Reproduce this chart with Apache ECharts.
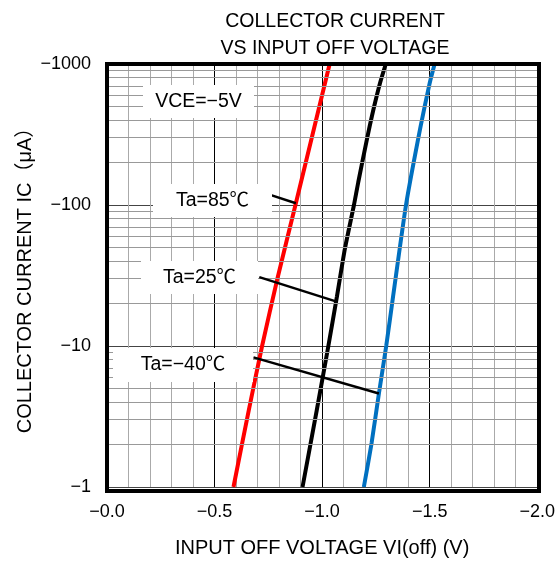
<!DOCTYPE html>
<html>
<head>
<meta charset="utf-8">
<script src="https://cdn.jsdelivr.net/npm/echarts@6/dist/echarts.min.js"></script>
<style>
html,body{margin:0;padding:0;background:#fff;}
#chart{width:558px;height:563px;}
</style>
</head>
<body>
<div id="chart"></div>
<script>
// Collector current IC (µA, magnitude) vs input off voltage VI(off) (V, magnitude)
const ic85 = [1, 3.5, 10, 30, 103, 1000];
const v85  = [0.588, 0.659, 0.721, 0.792, 0.878, 1.035];

const ic25 = [1, 3.5, 10, 22.5, 49, 100, 145, 249, 362, 501, 731, 1000];
const v25  = [0.909, 0.975, 1.029, 1.069, 1.106, 1.148, 1.168, 1.199, 1.221, 1.242, 1.269, 1.296];

const icM40 = [1, 2.05, 4.6, 10, 22.5, 100, 362, 731, 1000];
const vM40  = [1.194, 1.230, 1.264, 1.298, 1.330, 1.390, 1.458, 1.500, 1.523];

// leader lines: [label end, curve end] as [V, IC]
const lead85  = [[0.759, 118], [0.878, 103]];
const lead25  = [[0.708, 30.8], [1.060, 20.8]];
const leadM40 = [[0.681, 8.3], [1.264, 4.6]];

// minor horizontal grid: 2..9 within each decade
const minorIc = [];
[1, 10, 100].forEach(d => { for (let k = 2; k <= 9; k++) minorIc.push(k * d); });

const xTicks = { min: 0, max: 2, step: 0.5 };
const yTicks = { min: 1, max: 1000 };

const MINUS = '\u2212';
const FONT = '"Liberation Sans", "Noto Sans CJK JP", sans-serif';

const zip = (xs, ys) => xs.map((x, i) => [x, ys[i]]);

const G = { left: 107, top: 64, width: 432, height: 427 };

function leader(pts) {
  return {
    silent: true,
    symbol: 'none',
    label: { show: false },
    lineStyle: { color: '#000', width: 2.5, type: 'solid' },
    data: [[{ coord: pts[0] }, { coord: pts[1] }]]
  };
}

function labelBox(text, x, y, w, h) {
  return {
    type: 'group',
    z: 10,
    children: [
      { type: 'rect', shape: { x: x, y: y, width: w, height: h }, style: { fill: '#fff' }, z: 10 },
      { type: 'text', x: x + w / 2, y: y + h / 2, z: 11,
        style: { text: text, font: '19.5px ' + FONT, fill: '#000', textAlign: 'center', textVerticalAlign: 'middle' } }
    ]
  };
}

function curve(name, xs, ys, color, lead) {
  return {
    name: name, type: 'line', data: zip(xs, ys),
    smooth: 0.2,
    showSymbol: false, z: 3, lineStyle: { color: color, width: 4 },
    markLine: leader(lead)
  };
}

const chart = echarts.init(document.getElementById('chart'));
chart.setOption({
  animation: false,
  backgroundColor: '#fff',
  title: {
    text: 'COLLECTOR CURRENT\nVS INPUT OFF VOLTAGE',
    left: 330, top: 3, textAlign: 'center',
    textStyle: { fontFamily: FONT, fontSize: 19.5, fontWeight: 'normal', color: '#000', lineHeight: 27 }
  },
  grid: { left: G.left, top: G.top, width: G.width, height: G.height, show: false },
  xAxis: {
    type: 'value',
    min: xTicks.min, max: xTicks.max, interval: xTicks.step,
    name: 'INPUT OFF VOLTAGE VI(off) (V)',
    nameLocation: 'middle', nameGap: 51, nameMoveOverlap: false,
    nameTextStyle: { fontFamily: FONT, fontSize: 20, color: '#000' },
    axisLine: { show: false },
    axisTick: { show: false },
    axisLabel: { margin: 16, fontFamily: FONT, fontSize: 18, color: '#000',
      formatter: v => MINUS + v.toFixed(1) },
    splitLine: { show: true, lineStyle: { color: '#000', width: 1 } },
    minorTick: { show: false, splitNumber: 5 },
    minorSplitLine: { show: true, lineStyle: { color: '#aaa', width: 1 } }
  },
  yAxis: {
    type: 'log', logBase: 10,
    min: yTicks.min, max: yTicks.max,
    name: 'COLLECTOR CURRENT IC\uFF08\u03BCA\uFF09',
    nameLocation: 'middle', nameGap: 72, nameRotate: 90, nameMoveOverlap: false,
    nameTextStyle: { fontFamily: FONT, fontSize: 20, color: '#000' },
    axisLine: { show: false },
    axisTick: { show: false },
    axisLabel: { margin: 16, fontFamily: FONT, fontSize: 18, color: '#000',
      formatter: v => MINUS + v },
    splitLine: { show: true, lineStyle: { color: '#444', width: 1 } }
  },
  series: [
    {
      name: 'grid-minor', type: 'line', data: [], z: 1, silent: true,
      markLine: {
        silent: true, symbol: 'none', label: { show: false },
        lineStyle: { color: '#999', width: 1, type: 'solid' },
        data: minorIc.map(v => ({ yAxis: v }))
      }
    },
    curve('Ta=85℃', v85, ic85, '#ff0000', lead85),
    curve('Ta=25℃', v25, ic25, '#000000', lead25),
    curve('Ta=-40℃', vM40, icM40, '#0070c0', leadM40)
  ],
  graphic: [
    labelBox('VCE=' + MINUS + '5V', 143, 85, 111, 33),
    labelBox('Ta=85℃', 153, 184, 119, 33),
    labelBox('Ta=25℃', 141, 261, 117, 33),
    labelBox('Ta=' + MINUS + '40℃', 113, 348, 140, 34),
    { type: 'rect', z: 20, silent: true,
      shape: { x: G.left, y: G.top, width: G.width, height: G.height },
      style: { fill: 'none', stroke: '#000', lineWidth: 4 } }
  ]
});
</script>
</body>
</html>
